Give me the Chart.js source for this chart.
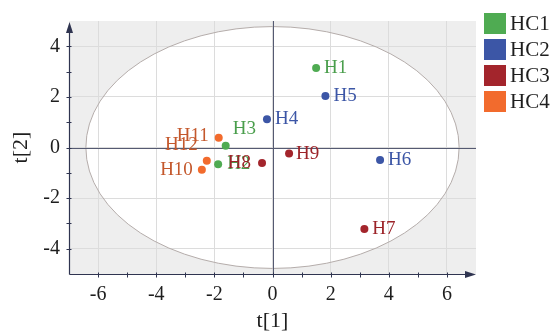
<!DOCTYPE html>
<html>
<head>
<meta charset="utf-8">
<script src="https://cdn.jsdelivr.net/npm/chart.js@4"></script>
<style>
  html, body { margin: 0; padding: 0; background: #ffffff; }
  #wrap { width: 550px; height: 334px; }
</style>
</head>
<body>
<div id="wrap"><canvas id="c" width="550" height="334"></canvas></div>
<script>
// PCA score plot: t[1] vs t[2] with Hotelling ellipse
const groups = ['HC1', 'HC2', 'HC3', 'HC4'];
const groupColors = ['#4fab52', '#3c56a6', '#a3252c', '#f26b2d'];
const labelColors = ['#4a9e4c', '#3c56a6', '#9c2429', '#c4582c'];

const hc1Names = ['H1', 'H2', 'H3'];
const hc1X = [1.50, -1.87, -1.61];
const hc1Y = [3.14, -0.66, 0.07];

const hc2Names = ['H4', 'H5', 'H6'];
const hc2X = [-0.19, 1.82, 3.70];
const hc2Y = [1.12, 2.04, -0.49];

const hc3Names = ['H7', 'H8', 'H9'];
const hc3X = [3.16, -0.36, 0.57];
const hc3Y = [-3.22, -0.61, -0.24];

const hc4Names = ['H10', 'H11', 'H12'];
const hc4X = [-2.43, -1.85, -2.26];
const hc4Y = [-0.88, 0.39, -0.52];

const xTicks = [-6, -4, -2, 0, 2, 4, 6];
const yTicks = [-4, -2, 0, 2, 4];
const xMinorTicks = [-5, -3, -1, 1, 3, 5];
const yMinorTicks = [-3, -1, 1, 3];
const xRange = [-7, 7];
const yRange = [-5, 5];
const ellipseRadii = [6.42, 4.78];

// label placement: [dx, dy, align] in pixels relative to the point
const labelPlace = {
  H1: [8, 0, 'left'], H2: [9, 0, 'left'], H3: [7, -17, 'left'],
  H4: [8, 0, 'left'], H5: [8, 0, 'left'], H6: [8, 0, 'left'],
  H7: [8, 0, 'left'], H8: [-11, 0, 'right'], H9: [7, 0, 'left'],
  H10: [-9, 0, 'right'], H11: [-10, -2, 'right'], H12: [-9, -16, 'right']
};

const serif = '"Liberation Serif", "Times New Roman", serif';
const axisColor = '#2f3450';

function build(names, xs, ys) {
  return names.map((n, i) => ({ x: xs[i], y: ys[i], name: n }));
}
const seriesData = [
  build(hc1Names, hc1X, hc1Y),
  build(hc2Names, hc2X, hc2Y),
  build(hc3Names, hc3X, hc3Y),
  build(hc4Names, hc4X, hc4Y)
];

const decor = {
  id: 'decor',
  beforeDraw(chart) {
    const { ctx, chartArea: a, scales: { x, y } } = chart;
    ctx.save();
    ctx.fillStyle = '#eeeeee';
    ctx.fillRect(a.left, a.top, a.right - a.left, a.bottom - a.top);
    const cx = x.getPixelForValue(0), cy = y.getPixelForValue(0);
    const rx = x.getPixelForValue(ellipseRadii[0]) - cx;
    const ry = cy - y.getPixelForValue(ellipseRadii[1]);
    ctx.beginPath();
    ctx.ellipse(cx, cy, rx, ry, 0, 0, Math.PI * 2);
    ctx.fillStyle = '#ffffff';
    ctx.fill();
    ctx.restore();
  },
  beforeDatasetsDraw(chart) {
    const { ctx, chartArea: a, scales: { x, y } } = chart;
    ctx.save();
    // ellipse outline
    const cx = x.getPixelForValue(0), cy = y.getPixelForValue(0);
    const rx = x.getPixelForValue(ellipseRadii[0]) - cx;
    const ry = cy - y.getPixelForValue(ellipseRadii[1]);
    ctx.beginPath();
    ctx.ellipse(cx, cy, rx, ry, 0, 0, Math.PI * 2);
    ctx.strokeStyle = '#b5adab';
    ctx.lineWidth = 1;
    ctx.stroke();

    // zero lines
    ctx.strokeStyle = '#555a72';
    ctx.lineWidth = 1;
    ctx.beginPath();
    ctx.moveTo(a.left, Math.round(cy) + 0.5);
    ctx.lineTo(a.right, Math.round(cy) + 0.5);
    ctx.moveTo(Math.round(cx) + 0.5, a.top);
    ctx.lineTo(Math.round(cx) + 0.5, a.bottom);
    ctx.stroke();

    // axes with arrowheads
    const L = Math.round(a.left) + 0.5, B = Math.round(a.bottom) + 0.5;
    ctx.strokeStyle = axisColor;
    ctx.fillStyle = axisColor;
    ctx.lineWidth = 1.2;
    ctx.beginPath();
    ctx.moveTo(L, B);
    ctx.lineTo(L, a.top + 4);
    ctx.moveTo(L, B);
    ctx.lineTo(a.right - 4, B);
    ctx.stroke();
    ctx.beginPath();
    ctx.moveTo(L, a.top + 1);
    ctx.lineTo(L - 3.5, a.top + 12);
    ctx.lineTo(L + 3.5, a.top + 12);
    ctx.closePath();
    ctx.fill();
    ctx.beginPath();
    ctx.moveTo(a.right, B);
    ctx.lineTo(a.right - 11, B - 3.5);
    ctx.lineTo(a.right - 11, B + 3.5);
    ctx.closePath();
    ctx.fill();

    // tick marks
    ctx.lineWidth = 1;
    ctx.beginPath();
    xTicks.concat(xMinorTicks).forEach(v => {
      const px = Math.round(x.getPixelForValue(v)) + 0.5;
      ctx.moveTo(px, B - 2);
      ctx.lineTo(px, B + 3);
    });
    yTicks.concat(yMinorTicks).forEach(v => {
      const py = Math.round(y.getPixelForValue(v)) + 0.5;
      ctx.moveTo(L - 3, py);
      ctx.lineTo(L + 2, py);
    });
    ctx.stroke();

    // axis titles
    ctx.fillStyle = '#1e1e1e';
    ctx.font = '22px ' + serif;
    ctx.textAlign = 'center';
    ctx.textBaseline = 'middle';
    ctx.fillText('t[1]', x.getPixelForValue(0), 321);
    ctx.save();
    ctx.translate(21, y.getPixelForValue(0));
    ctx.rotate(-Math.PI / 2);
    ctx.fillText('t[2]', 0, 0);
    ctx.restore();

    // legend
    ctx.font = '21px ' + serif;
    ctx.textAlign = 'left';
    groups.forEach((g, i) => {
      const top = 13 + i * 26;
      ctx.fillStyle = groupColors[i];
      ctx.fillRect(484, top, 22, 21);
      ctx.fillStyle = '#1e1e1e';
      ctx.fillText(g, 510, top + 11.5);
    });
    ctx.restore();
  },
  afterDatasetsDraw(chart) {
    const { ctx } = chart;
    ctx.save();
    ctx.font = '19px ' + serif;
    ctx.textBaseline = 'middle';
    chart.data.datasets.forEach((ds, di) => {
      const meta = chart.getDatasetMeta(di);
      ds.data.forEach((pt, i) => {
        const el = meta.data[i];
        const p = labelPlace[pt.name] || [8, 0, 'left'];
        ctx.fillStyle = labelColors[di];
        ctx.textAlign = p[2];
        ctx.fillText(pt.name, el.x + p[0], el.y + p[1]);
      });
    });
    ctx.restore();
  }
};

new Chart(document.getElementById('c'), {
  type: 'scatter',
  data: {
    datasets: groups.map((g, i) => ({
      label: g,
      data: seriesData[i],
      backgroundColor: groupColors[i],
      borderColor: groupColors[i],
      borderWidth: 0,
      pointRadius: 4,
      pointHoverRadius: 4
    }))
  },
  options: {
    responsive: false,
    animation: false,
    events: [],
    layout: { padding: { left: 0, right: 74, top: 16, bottom: 0 } },
    plugins: { legend: { display: false }, tooltip: { enabled: false } },
    scales: {
      x: {
        type: 'linear',
        min: xRange[0],
        max: xRange[1],
        afterBuildTicks(s) { s.ticks = xTicks.map(v => ({ value: v })); },
        afterFit(s) { s.height = 60; },
        grid: { color: '#dcdcdc', drawTicks: false },
        border: { display: false },
        ticks: {
          padding: 9,
          color: '#1e1e1e',
          font: { family: serif, size: 20 },
          callback: v => String(v)
        }
      },
      y: {
        type: 'linear',
        min: yRange[0],
        max: yRange[1],
        afterBuildTicks(s) { s.ticks = yTicks.map(v => ({ value: v })); },
        afterFit(s) { s.width = 69; },
        grid: { color: '#dcdcdc', drawTicks: false },
        border: { display: false },
        ticks: {
          padding: 9,
          color: '#1e1e1e',
          font: { family: serif, size: 20 },
          callback: v => String(v)
        }
      }
    }
  },
  plugins: [decor]
});
</script>
</body>
</html>
